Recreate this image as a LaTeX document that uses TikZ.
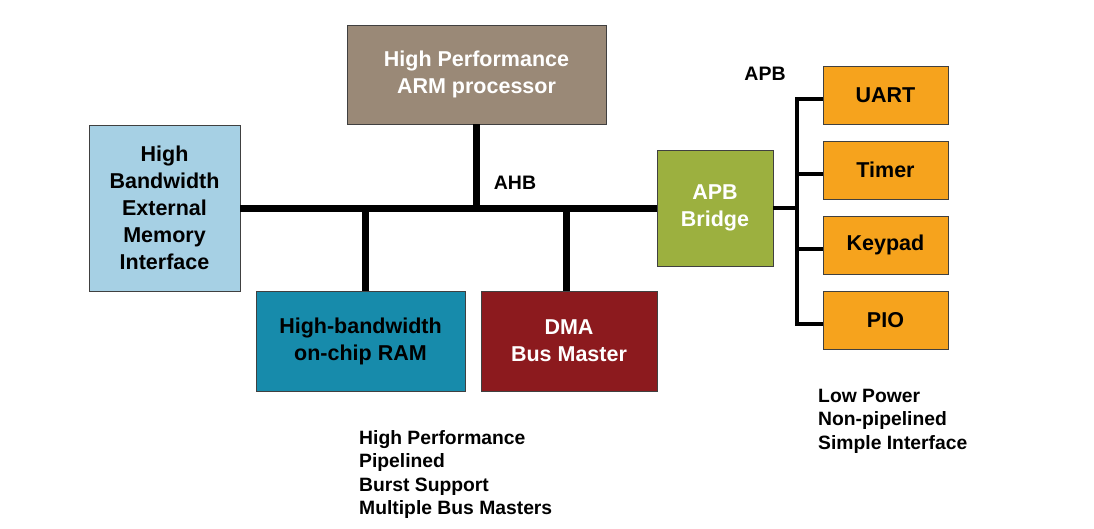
\documentclass[tikz,border=0pt]{standalone}
\usepackage{fontspec}
\setmainfont{Liberation Sans}
\definecolor{armc}{HTML}{9A8977}
\definecolor{memc}{HTML}{A6D0E4}
\definecolor{ramc}{HTML}{178BAB}
\definecolor{dmac}{HTML}{8C1A1E}
\definecolor{brc}{HTML}{9CB03F}
\definecolor{orc}{HTML}{F6A31D}
\definecolor{edgec}{HTML}{404040}
\tikzset{
  blk/.style={draw=edgec, line width=0.9pt, inner sep=0pt, align=center,
    font=\fontsize{21.5}{27}\selectfont\bfseries},
  per/.style={blk, fill=orc, minimum width=125pt, minimum height=58pt},
  ahb/.style={line width=7pt},
  apb/.style={line width=4pt},
  lbl/.style={inner sep=0pt, font=\fontsize{19.5}{23}\selectfont\bfseries},
  lst/.style={inner sep=0pt, align=left, anchor=north west, font=\fontsize{19.3}{23.5}\selectfont\bfseries}
}
\begin{document}
\begin{tikzpicture}[x=1pt,y=-1pt]
\useasboundingbox (0,0) rectangle (1094,528);
\node[blk, fill=armc, text=white, minimum width=259pt, minimum height=99pt] (arm) at (476.5,74.5) {High Performance\\ARM processor};
\node[blk, fill=memc, minimum width=151pt, minimum height=166pt] (mem) at (164.5,208) {High\\Bandwidth\\External\\Memory\\Interface};
\node[blk, fill=ramc, minimum width=209pt, minimum height=100pt] (ram) at (360.5,341) {High-bandwidth\\on-chip RAM};
\node[blk, fill=dmac, text=white, minimum width=176pt, minimum height=100pt] (dma) at (569,341) {DMA\\Bus Master};
\node[blk, fill=brc, text=white, minimum width=116pt, minimum height=116pt] (br) at (715,208) {APB\\Bridge};
\node[per] (uart) at (885.5,95) {UART};
\node[per] (timer) at (885.5,170) {Timer};
\node[per] (key) at (885.5,245) {Keypad};
\node[per] (pio) at (885.5,320) {PIO};
% AHB bus
\draw[ahb] (mem.east) -- (br.west);
\draw[ahb] (arm.south) -- (arm.south |- mem.east);
\draw[ahb] ([xshift=4.5pt]ram.north) -- ([xshift=4.5pt]ram.north |- mem.east);
\draw[ahb] ([xshift=-3pt]dma.north) -- ([xshift=-3pt]dma.north |- mem.east);
% APB bus
\coordinate (apbj) at (797,208);
\coordinate (su) at ([yshift=-4pt]uart.west);
\coordinate (st) at ([yshift=-4pt]timer.west);
\coordinate (sk) at ([yshift=-4pt]key.west);
\coordinate (sp) at ([yshift=-4pt]pio.west);
\draw[apb] (br.east) -- (apbj);
\draw[apb, line join=miter] (su) -- (apbj |- su) -- (apbj |- sp) -- (sp);
\draw[apb] (apbj |- st) -- (st);
\draw[apb] (apbj |- sk) -- (sk);
\node[lbl] (ahbl) at (515,183) {AHB};
\node[lbl] (apbl) at (765,74) {APB};
\node[lst] (l1) at (359,430) {High Performance\\Pipelined\\Burst Support\\Multiple Bus Masters};
\node[lst] (l2) at (818,389) {Low Power\\Non-pipelined\\Simple Interface};
\end{tikzpicture}
\end{document}
